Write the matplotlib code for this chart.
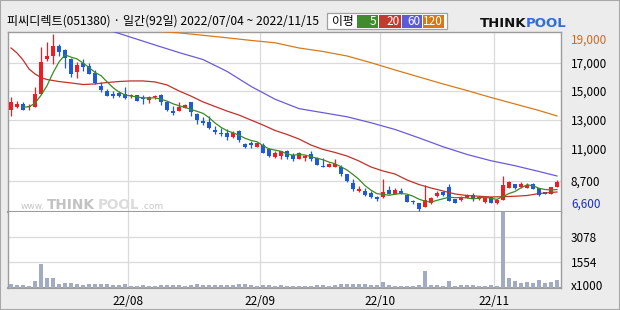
import matplotlib
matplotlib.use('Agg')
import matplotlib.pyplot as plt
import matplotlib.transforms as mtransforms
from matplotlib.patches import Rectangle

plt.rcParams['font.family'] = ['Noto Sans CJK KR', 'DejaVu Sans']

# ---------------- data ----------------
title = '피씨디렉트(051380) · 일간(92일) 2022/07/04 ~ 2022/11/15'
month_labels = ['22/08', '22/09', '22/10', '22/11']
month_first_idx = [20, 42, 62, 81]

opens = [13670, 13900, 14100, 13860, 13900, 14800, 17230, 17480, 18180, 17880,
         17250, 16360, 16950, 16760, 16250, 15380, 15010, 14770, 14900, 14810,
         14620, 14730, 14520, 14350, 14550, 14730, 14230, 13580, 13620, 13830,
         14210, 13380, 12900, 12850, 12270, 12080, 12040, 11800, 12220, 11270,
         11340, 11100, 11220, 10920, 10400, 10470, 10800, 10520, 10240, 10290,
         10610, 10310, 9750, 9700, 9700, 9680, 9190, 8580, 8020, 8020,
         7890, 7600, 7580, 8070, 7770, 8000, 7720, 7310, 7140, 6900,
         7180, 7650, 7910, 8260, 7440, 7370, 7530, 7720, 7420, 7250,
         7560, 7180, 7390, 8230, 8490, 8300, 8190, 8490, 8190, 7910,
         7790, 8260]
highs = [14600, 14330, 14210, 14100, 15270, 18070, 18460, 19000, 18300, 17950,
         17300, 17060, 17230, 16990, 16480, 15660, 15150, 15010, 15030, 15270,
         14820, 14730, 14700, 14630, 14700, 14770, 14320, 13930, 14200, 14070,
         14230, 13450, 13200, 13270, 12570, 12390, 12340, 12200, 12270, 11380,
         11520, 11380, 11340, 10990, 10820, 10810, 10870, 10680, 10700, 10520,
         10820, 10350, 10290, 9950, 10230, 9820, 9200, 8840, 8330, 8240,
         7980, 7660, 8840, 8380, 8210, 8190, 7740, 7390, 7180, 8420,
         7600, 8020, 8000, 8490, 7460, 7670, 7790, 7840, 7670, 7560,
         7580, 7420, 9050, 8720, 8500, 8610, 8540, 8580, 8190, 7920,
         8260, 8770]
lows = [13250, 13790, 13670, 13670, 13900, 14800, 17130, 16900, 17480, 16600,
        16010, 15900, 16430, 16220, 15480, 14960, 14680, 14540, 14610, 14470,
        14490, 14330, 14070, 14140, 14440, 14020, 13630, 13350, 13620, 13790,
        13270, 12670, 12620, 12320, 11990, 11870, 11570, 11730, 11450, 10990,
        10990, 11100, 10680, 10400, 10290, 10240, 10240, 10120, 10220, 10120,
        10120, 9830, 9690, 9690, 9690, 9080, 8650, 8030, 7910, 7630,
        7510, 7310, 7510, 7770, 7770, 7790, 7230, 7070, 6600, 6900,
        7070, 7600, 7670, 7320, 7160, 7320, 7490, 7320, 7370, 7140,
        7160, 7090, 7390, 8190, 8120, 8230, 8190, 8120, 7650, 7760,
        7790, 8260]
closes = [14250, 14100, 13670, 13930, 14800, 17020, 17460, 18160, 17760, 17300,
          16220, 16830, 16710, 16220, 15550, 15100, 14680, 14660, 14680, 14540,
          14710, 14330, 14410, 14590, 14610, 14200, 13670, 13480, 13900, 14050,
          13500, 12970, 12780, 12430, 12150, 11970, 11800, 12040, 11570, 11100,
          11200, 11340, 10680, 10450, 10640, 10800, 10400, 10240, 10680, 10470,
          10230, 9850, 9700, 9880, 9880, 9180, 8700, 8140, 8140, 7720,
          7580, 7460, 7950, 7770, 8090, 7840, 7250, 7210, 6740, 7370,
          7530, 7880, 7740, 7320, 7180, 7600, 7720, 7420, 7600, 7490,
          7180, 7370, 8420, 8650, 8190, 8470, 8420, 8140, 7720, 7770,
          8260, 8610]
volumes = [244, 183, 183, 122, 426, 1462, 629, 629, 264, 305,
           305, 244, 183, 244, 244, 244, 244, 183, 183, 244,
           122, 122, 183, 122, 122, 183, 183, 183, 183, 122,
           183, 244, 183, 183, 183, 183, 183, 183, 244, 244,
           183, 122, 183, 183, 122, 183, 122, 122, 122, 122,
           122, 183, 183, 122, 183, 244, 244, 244, 244, 244,
           183, 183, 365, 183, 122, 122, 122, 122, 183, 1035,
           183, 183, 122, 426, 122, 183, 183, 183, 122, 122,
           183, 122, 5200, 629, 426, 305, 365, 305, 487, 325,
           365, 487]

ma5_idx = list(range(2, 92))
ma5 = [13870, 13900, 14150, 14704, 15376, 16274, 17040, 17540, 17380, 17254,
       16964, 16656, 16306, 16082, 15652, 15242, 14934, 14732, 14654, 14584,
       14534, 14516, 14530, 14428, 14296, 14110, 13972, 13860, 13720, 13580,
       13440, 13146, 12766, 12460, 12226, 12078, 11906, 11696, 11542, 11450,
       11178, 10954, 10862, 10782, 10594, 10506, 10552, 10518, 10404, 10294,
       10186, 10026, 9908, 9698, 9468, 9156, 8808, 8376, 8056, 7808,
       7770, 7696, 7770, 7822, 7780, 7632, 7426, 7282, 7220, 7346,
       7452, 7568, 7530, 7544, 7512, 7448, 7504, 7566, 7482, 7412,
       7612, 7822, 7962, 8220, 8430, 8374, 8188, 8104, 8064, 8102]
ma20_idx = [0, 1, 2, 3, 4, 5, 6, 7, 8, 10, 12, 14, 16, 18, 20, 22, 24, 26, 28, 30,
            32, 34, 36, 38, 40, 42, 44, 46, 48, 50, 52, 54, 56, 58, 60, 62, 64, 66,
            68, 70, 72, 74, 76, 78, 80, 82, 84, 86, 88, 90, 91]
ma20 = [18020, 17670, 17180, 16550, 16200, 15950, 15810, 15740, 15670, 15570,
        15460, 15500, 15600, 15670, 15710, 15710, 15640, 15430, 15010, 14650,
        14240, 13920, 13600, 13320, 12970, 12620, 12240, 11960, 11640, 11220,
        10910, 10700, 10450, 10100, 9680, 9400, 9190, 8770, 8450, 8210,
        8000, 7790, 7680, 7630, 7580, 7600, 7630, 7680, 7820, 7890, 7930]
ma60_idx = [17, 20, 24, 28, 32, 36, 40, 44, 48, 52, 56, 60, 64, 68, 72, 76, 80, 84, 88, 91]
ma60 = [19175, 18770, 18230, 17700, 17210, 16380, 15330, 14430, 13770, 13485,
        13200, 12780, 12310, 11720, 11100, 10560, 10120, 9770, 9365, 9050]
ma120_idx = [24, 28, 32, 36, 40, 44, 48, 52, 56, 60, 64, 68, 72, 76, 80, 84, 88, 91]
ma120 = [19200, 19080, 18910, 18735, 18550, 18385, 18020, 17775, 17460, 16990,
         16480, 15990, 15500, 15040, 14550, 14095, 13640, 13255]

price_ticks = [17000, 15000, 13000, 11000, 8700]
price_max_label = 19000
price_min_label = 6600
vol_ticks = [1554, 3078]
legend_labels = ['5', '20', '60', '120']

# ---------------- style ----------------
UP = '#ee1d23'
DOWN = '#1f5ad6'
MA_COLORS = ['#3d8a22', '#c2302b', '#6a5bdc', '#d9791a']
LEG_COLORS = ['#3e8c2b', '#c53a2f', '#5c5ad8', '#d8780f']
VOL_COLOR = '#a2abc2'
GRID = '#dadada'
FRAME = '#9c9c9c'
BG = '#ececec'

W, H = 620, 310


def fx(px):
    return px / W


def fy(py):
    return 1 - py / H


fig = plt.figure(figsize=(6.2, 3.1), dpi=100, facecolor=BG)
ax = fig.add_axes([fx(8), fy(212), fx(561) - fx(8), fy(32) - fy(212)])
axv = fig.add_axes([fx(8), fy(288), fx(561) - fx(8), fy(212) - fy(288)])

n = len(closes)
xs = list(range(n))
xlim = (-0.5, 91.67)

# ----- candles -----
for i in xs:
    o, h, l, c = opens[i], highs[i], lows[i], closes[i]
    col = UP if c >= o else DOWN
    ax.vlines(i, l, h, color=col, lw=0.9, zorder=3)
    bottom = min(o, c)
    height = max(abs(c - o), 75)
    ax.bar(i, height, bottom=bottom, width=0.78, color=col, linewidth=0, zorder=4)

# ----- moving averages -----
for idx, vals, col in [(ma120_idx, ma120, MA_COLORS[3]), (ma60_idx, ma60, MA_COLORS[2]),
                       (ma20_idx, ma20, MA_COLORS[1]), (ma5_idx, ma5, MA_COLORS[0])]:
    ax.plot(idx, vals, color=col, lw=0.9, zorder=5)

ax.set_xlim(*xlim)
ax.set_ylim(6526, 19140)
ax.set_facecolor('white')
grid_x = [m - 0.5 for m in month_first_idx]
ax.set_xticks(grid_x)
ax.set_xticklabels([])
ax.tick_params(axis='x', length=0)
ax.yaxis.tick_right()
ax.set_yticks(price_ticks)
ax.set_yticklabels([f'{v:,}' for v in price_ticks])
ax.tick_params(axis='y', length=0, pad=7, labelsize=8.5)
ax.grid(True, color=GRID, lw=0.9, zorder=0)
ax.set_axisbelow(True)
for s in ax.spines.values():
    s.set_color(FRAME)
    s.set_linewidth(1.0)
ax.spines['bottom'].set_linewidth(1.5)

trans = mtransforms.blended_transform_factory(ax.transAxes, ax.transData)
ax.text(1 + 10 / 553, price_max_label, f'{price_max_label:,}', transform=trans,
        ha='left', va='top', fontsize=8.5, color='#cf6b16', clip_on=False)
ax.text(1 + 10 / 553, price_min_label, f'{price_min_label:,}', transform=trans,
        ha='left', va='bottom', fontsize=8.5, color='#1c2ec8', clip_on=False)

# watermark
wm_y = fy(209)
fig.text(fx(21), wm_y, 'www.', fontsize=6.5, color='#c6c6c6', va='baseline',
         family='DejaVu Sans', zorder=1)
fig.text(fx(47), wm_y, 'THINK', fontsize=9.8, fontweight='bold', color='#c2c2c2',
         va='baseline', family='DejaVu Sans', zorder=1)
fig.text(fx(97.5), wm_y, 'POOL', fontsize=9.8, fontweight='bold', color='#dcdcdc',
         va='baseline', family='DejaVu Sans', zorder=1)
fig.text(fx(141), wm_y, '.com', fontsize=6.5, color='#c6c6c6', va='baseline',
         family='DejaVu Sans', zorder=1)

# ----- volume -----
axv.bar(xs, volumes, width=0.8, color=VOL_COLOR, linewidth=0, zorder=3)
axv.set_xlim(*xlim)
axv.set_ylim(0, 4631)
axv.set_facecolor('white')
axv.set_xticks(grid_x)
axv.set_xticklabels(month_labels)
axv.tick_params(axis='x', length=0, pad=5, labelsize=8.5)
axv.yaxis.tick_right()
axv.set_yticks(vol_ticks)
axv.set_yticklabels([str(v) for v in vol_ticks])
axv.tick_params(axis='y', length=0, pad=7, labelsize=8.5)
axv.grid(True, color=GRID, lw=0.9, zorder=0)
axv.set_axisbelow(True)
for s in axv.spines.values():
    s.set_color(FRAME)
    s.set_linewidth(1.0)
axv.spines['top'].set_visible(False)
axv.spines['bottom'].set_linewidth(1.5)
transv = mtransforms.blended_transform_factory(axv.transAxes, axv.transData)
axv.text(1 + 10 / 553, 100, 'x1000', transform=transv, ha='left', va='center',
         fontsize=8.5, clip_on=False)

# ----- header -----
fig.text(fx(7), fy(21), title, fontsize=8.7, ha='left', va='center')

fig.add_artist(Rectangle((fx(327), fy(29)), 120 / W, 16 / H, transform=fig.transFigure,
                         facecolor='white', edgecolor='#a0a0a0', lw=0.9))
fig.text(fx(343), fy(21), '이평', fontsize=8.5, ha='center', va='center')
box_x = [357, 379, 402, 423]
box_w = [21, 22, 20, 21]
for bx, bw, col, lab in zip(box_x, box_w, LEG_COLORS, legend_labels):
    fig.add_artist(Rectangle((fx(bx), fy(28)), bw / W, 13 / H, transform=fig.transFigure,
                             facecolor=col, edgecolor='none'))
    fig.text(fx(bx + bw - 1.5), fy(21.5), lab, fontsize=8.5, color='white',
             ha='right', va='center')

fig.text(fx(480), fy(27), 'THINK', fontsize=9.5, fontweight='bold', color='#111111',
         family='DejaVu Sans', va='baseline')
fig.text(fx(526), fy(27), 'POOL', fontsize=9.5, fontweight='bold', color='#2f6fd8',
         family='DejaVu Sans', va='baseline')

fig.add_artist(Rectangle((0, 0), 1, 1, transform=fig.transFigure, fill=False,
                         edgecolor='#a8a8a8', lw=1.5))

fig.savefig('out.png', dpi=100, facecolor=BG)
